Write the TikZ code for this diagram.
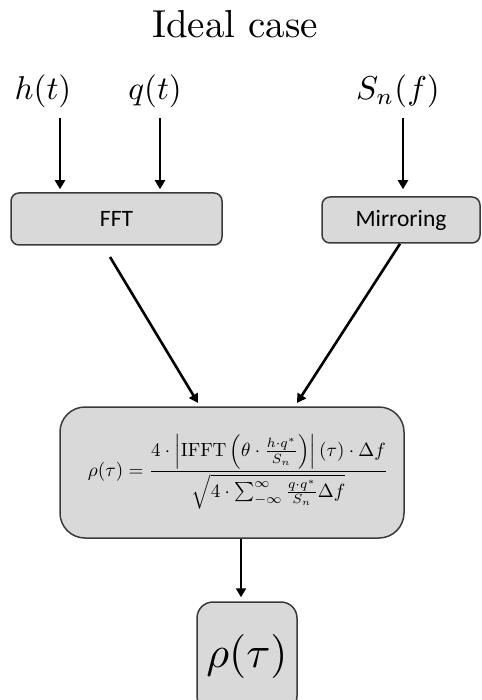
\documentclass[tikz,border=0pt]{standalone}
\usepackage[no-math]{fontspec}
\usepackage{graphicx}
\newfontfamily\boxfont{Carlito}
\usetikzlibrary{arrows.meta}
\definecolor{boxfill}{HTML}{D9D9D9}
\definecolor{boxline}{HTML}{3A3A3A}
\tikzset{
  x=1pt, y=1pt,
  procbox/.style={draw=boxline, fill=boxfill, line width=1.5pt, inner sep=0pt},
  flow/.style={line width=2.6pt, -{Triangle[length=9pt,width=10pt]}},
  inlabel/.style={anchor=base, inner sep=0pt},
}
\newcommand{\biglabel}[2]{\scalebox{#1}{$#2$}}
\begin{document}
\begin{tikzpicture}
\useasboundingbox (0,0) rectangle (481,-700);
\clip (0,0) rectangle (481,-700);

% title
\node[anchor=base, inner sep=0pt] (title) at (235,-38) {\scalebox{3.9}{Ideal case}};

% inputs
\node[inlabel] (h) at (43,-100) {\biglabel{3.3}{h(t)}};
\node[inlabel] (q) at (155,-100) {\biglabel{3.3}{q(t)}};
\node[inlabel] (sn) at (398,-100) {\biglabel{3.3}{S_n(f)}};

% processing boxes
\node[procbox, rounded corners=8pt, minimum width=211pt, minimum height=52pt,
      font=\boxfont\fontsize{23.5}{25}\selectfont] (fft) at (116.5,-219) {FFT};
\node[procbox, rounded corners=8pt, minimum width=158pt, minimum height=46pt,
      font=\boxfont\fontsize{23.5}{25}\selectfont] (mir) at (401,-220) {Mirroring};

% correlation formula
\node[procbox, rounded corners=25pt, minimum width=344pt, minimum height=131pt] (corr) at (232,-472.5) {};
\node[inner sep=0pt] (formula) at (238,-472) {\resizebox{300pt}{!}{$\displaystyle
  \rho(\tau)=\frac{4\cdot\left|\mathrm{IFFT}\left(\theta\cdot\frac{h\cdot q^*}{S_n}\right)\right|(\tau)\cdot\Delta f}
  {\sqrt{4\cdot\sum_{-\infty}^{\infty}\frac{q\cdot q^*}{S_n}\Delta f}}$}};

% output
\node[procbox, rounded corners=16pt, minimum width=100pt, minimum height=110pt] (rho) at (247,-657)
  {\raisebox{12pt}{\biglabel{4.4}{\rho(\tau)}}};

% connectors
\coordinate (hs) at (60,-118);
\coordinate (qs) at (160,-118);
\coordinate (ss) at (403,-118);
\coordinate (fo) at (110,-257);
\coordinate (ci) at (198,-403);
\coordinate (mo) at (400,-245);
\coordinate (mi) at (297,-403);
\coordinate (co) at (241,-538);

\draw[flow] (hs) -- ([yshift=3pt]hs |- fft.north);
\draw[flow] (qs) -- ([yshift=3pt]qs |- fft.north);
\draw[flow] (ss) -- ([yshift=7pt]ss |- mir.north);
\draw[flow] (fo) -- (ci);
\draw[flow] (mo |- mir.south) -- (mi);
\draw[flow] (co |- corr.south) -- ([yshift=4pt]co |- rho.north);
\end{tikzpicture}
\end{document}
